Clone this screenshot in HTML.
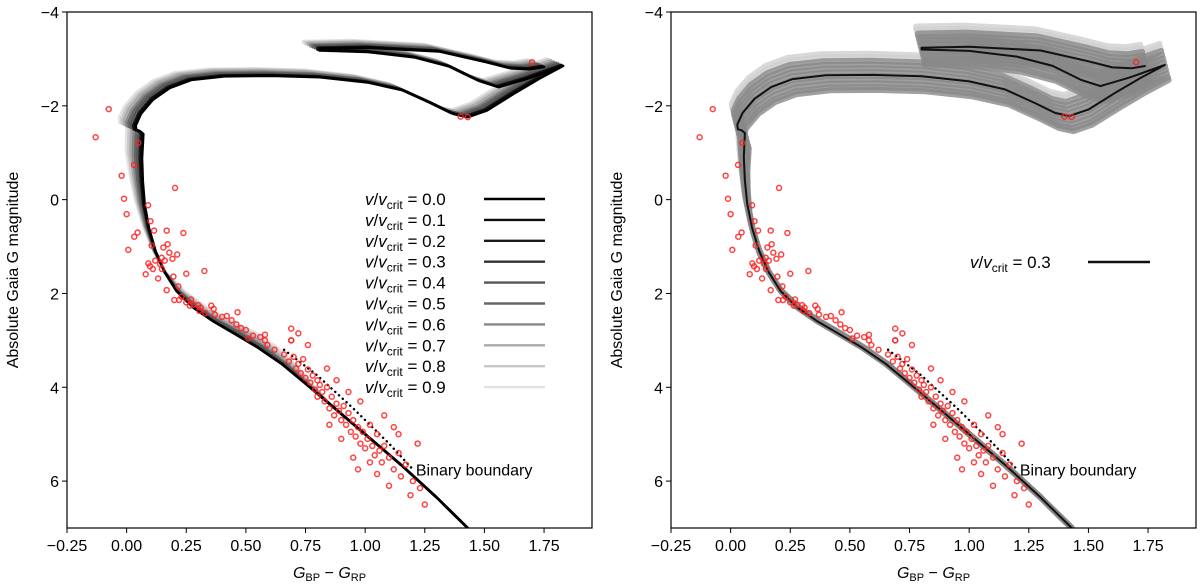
<!DOCTYPE html>
<html><head><meta charset="utf-8"><style>
body{margin:0;background:#fff;}
svg{display:block;font-family:"Liberation Sans","DejaVu Sans",sans-serif;}
</style></head><body>
<svg id="fig" width="1200" height="587" viewBox="0 0 1200 587" xmlns="http://www.w3.org/2000/svg"></svg>
<script>
// ---- data ----
const isoColor=[1.43,1.30,1.15,1.0,0.85,0.75,0.65,0.55,0.45,0.36,0.28,0.21,0.16,0.12,0.09,0.07,0.06,0.055,0.058,0.06,0.045,0.03,0.028,0.05,0.1,0.17,0.26,0.4,0.6,0.8,1.0,1.15,1.28,1.36,1.42,1.5,1.62,1.72,1.82,1.67,1.55,1.47,1.35,1.2,1.0,0.8,0.8,1.0,1.3,1.5,1.6,1.68,1.74];
const isoMag=[7.0,6.35,5.65,5.0,4.35,3.92,3.5,3.15,2.85,2.58,2.3,1.95,1.55,1.1,0.6,0.1,-0.4,-0.9,-1.25,-1.42,-1.48,-1.5,-1.6,-1.85,-2.15,-2.4,-2.57,-2.65,-2.66,-2.63,-2.52,-2.35,-2.05,-1.85,-1.78,-1.92,-2.3,-2.6,-2.87,-2.6,-2.42,-2.55,-2.85,-3.05,-3.17,-3.2,-3.24,-3.26,-3.18,-2.95,-2.82,-2.8,-2.85];
const rotRates=[0.0,0.1,0.2,0.3,0.4,0.5,0.6,0.7,0.8,0.9];
const rotMagShift=[0.02,0.01,0,0,-0.03,-0.05,-0.07,-0.1,-0.12,-0.14];
const rotColorShift=[0.01,0.005,0,0,-0.01,-0.02,-0.03,-0.04,-0.05,-0.06];
const rotMSShift=[0,0,0,0,0.02,0.03,0.04,0.06,0.08,0.1];
const rotGray=["#000","#0d0d0d","#1a1a1a","#333","#555","#666","#888","#aaa","#c8c8c8","#e2e2e2"];
const bandShifts=[-0.45,-0.38,-0.3,-0.22,-0.14,-0.06,0.02,0.1,0.18,0.26,0.32];
const starColor=[-0.13,-0.075,0.049,0.031,-0.021,-0.011,0,0.09,0.203,0.10,0.115,0.046,0.032,0.168,0.238,0.105,0.154,0.172,0.007,0.179,0.212,0.147,0.192,0.16,0.091,0.12,0.14,0.098,0.11,0.148,0.08,0.326,0.25,0.132,0.196,0.168,0.217,0.23,0.20,0.22,0.25,0.27,0.265,0.28,0.3,0.31,0.305,0.33,0.355,0.365,0.37,0.4,0.42,0.44,0.46,0.48,0.465,0.5,0.51,0.53,0.56,0.58,0.58,0.59,0.69,0.69,
0.62,0.66,0.68,0.70,0.71,0.72,0.73,0.74,0.75,0.76,0.77,0.78,0.79,0.80,0.80,0.81,0.82,0.83,0.84,0.85,0.86,0.87,0.88,0.89,0.90,0.91,0.92,0.93,0.94,0.95,0.96,0.97,0.98,0.99,1.00,1.01,1.02,1.03,1.04,1.05,1.06,1.07,1.08,1.10,1.12,1.14,1.15,1.17,1.20,1.22,1.23,1.25,1.19,1.10,0.97,0.95,1.05,1.12,1.14,0.98,0.93,0.88,0.84,0.76,0.72,0.69,1.08,0.90,1.02,0.85,1.40,1.43,1.70];
const starMag=[-1.33,-1.93,-1.21,-0.74,-0.51,-0.02,0.31,0.12,-0.25,0.46,0.66,0.70,0.79,0.66,0.71,0.98,1.02,0.95,1.07,1.13,1.17,1.24,1.26,1.3,1.36,1.3,1.37,1.42,1.48,1.48,1.59,1.52,1.58,1.68,1.64,1.93,1.85,2.07,2.14,2.14,2.19,2.13,2.26,2.24,2.25,2.3,2.37,2.42,2.26,2.33,2.45,2.5,2.48,2.57,2.66,2.74,2.4,2.78,2.96,2.9,2.93,3.0,2.88,3.1,2.75,3.0,
3.2,3.3,3.45,3.35,3.6,3.5,3.7,3.4,3.8,3.62,3.9,3.75,4.05,3.85,4.2,3.95,4.1,4.3,4.0,4.45,4.2,4.6,4.35,4.5,4.7,4.4,4.8,4.55,4.95,4.7,5.05,4.85,5.2,4.95,5.3,5.1,4.8,5.25,5.45,5.0,5.35,5.6,5.25,5.5,5.75,5.4,5.9,5.65,6.0,5.2,6.15,6.5,6.3,6.1,5.75,5.5,5.85,4.85,5.0,4.3,4.1,3.85,3.6,3.1,2.85,3.0,4.6,5.1,5.6,4.8,-1.77,-1.76,-2.93];
const binColor=[0.66,0.8,0.95,1.1,1.2];
const binMag=[3.2,3.75,4.45,5.2,5.75];
const xTicks=[-0.25,0,0.25,0.5,0.75,1.0,1.25,1.5,1.75];
const xTickLabels=["\u22120.25","0.00","0.25","0.50","0.75","1.00","1.25","1.50","1.75"];
const yTicks=[-4,-2,0,2,4,6];
const yTickLabels=["\u22124","\u22122","0","2","4","6"];

const NS="http://www.w3.org/2000/svg";
const fig=document.getElementById('fig');
function mk(tag,attrs,parent){const e=document.createElementNS(NS,tag);for(const k in attrs)e.setAttribute(k,attrs[k]);(parent||fig).appendChild(e);return e;}
const X0=-0.25,X1=1.951,Y0=-4,Y1=7,TOP=12,BOT=528;
function makeScales(left,right){return{x:c=>left+(c-X0)/(X1-X0)*(right-left),y:m=>TOP+(m-Y0)/(Y1-Y0)*(BOT-TOP)};}
function upperW(m){return Math.max(0,Math.min(1,(1.5-m)/2.5));}
function msW(m){return Math.max(0,1-Math.abs(m-2.9)/1.4);}
function pathFor(s,dc,dm,ms){let d="";for(let i=0;i<isoColor.length;i++){const w=upperW(isoMag[i]);const c=isoColor[i]+dc*w+ms*msW(isoMag[i]);const m=isoMag[i]+dm*w;d+=(i?"L":"M")+s.x(c).toFixed(1)+" "+s.y(m).toFixed(1);}return d;}

function panel(left,right,name,isRight){
  const s=makeScales(left,right);
  const g=mk('g',{});
  
  
  const clipId='clip'+name;
  const cp=mk('clipPath',{id:clipId},g);mk('rect',{x:left,y:TOP,width:right-left,height:BOT-TOP},cp);
  const plot=mk('g',{'clip-path':'url(#'+clipId+')'},g);
  if(!isRight){
    for(let k=rotRates.length-1;k>=0;k--){
      const p=mk('path',{d:pathFor(s,rotColorShift[k],rotMagShift[k],rotMSShift[k]),fill:'none',stroke:rotGray[k],'stroke-width':2.6,'stroke-linejoin':'round','stroke-linecap':'round'},plot);
      
      
    }
  } else {
    for(let k=0;k<bandShifts.length;k++){
      const p=mk('path',{d:pathFor(s,bandShifts[k]*0.05,bandShifts[k],Math.abs(bandShifts[k])*0.03),fill:'none',stroke:(Math.abs(bandShifts[k])>0.36?'#cfcfcf':'#888'),'stroke-width':6,'stroke-opacity':0.8,'stroke-linejoin':'round','stroke-linecap':'round'},plot);
      
      
    }
    const p=mk('path',{d:pathFor(s,0,0,0),fill:'none',stroke:'#111','stroke-width':2,'stroke-linejoin':'round'},plot);
    
    
  }
  let bd="";for(let i=0;i<binColor.length;i++)bd+=(i?"L":"M")+s.x(binColor[i])+" "+s.y(binMag[i]);
  const bb=mk('path',{d:bd,fill:'none',stroke:'#000','stroke-width':2.4,'stroke-dasharray':'0.1 5','stroke-linecap':'round'},plot);
  
  
  const bt=mk('text',{x:s.x(binColor[binColor.length-1])+3,y:s.y(binMag[binMag.length-1])+6,'font-size':16},g);
  bt.textContent='Binary boundary';
  
  
  for(let i=0;i<starColor.length;i++){
    const c=mk('circle',{cx:s.x(starColor[i]),cy:s.y(starMag[i]),r:2.5,fill:'none',stroke:'#f22','stroke-width':1.5,'stroke-opacity':0.85},plot);
    
    
  }
  const fr=mk('rect',{x:left,y:TOP,width:right-left,height:BOT-TOP,fill:'none',stroke:'#000','stroke-width':1.2},g);
  
  
  for(let i=0;i<xTicks.length;i++){
    const x=s.x(xTicks[i]);
    mk('line',{x1:x,x2:x,y1:BOT,y2:BOT+5,stroke:'#000','stroke-width':1},g);
    const t=mk('text',{x:x,y:BOT+23,'font-size':16,'text-anchor':'middle'},g);
    t.textContent=xTickLabels[i];
    
    
  }
  for(let i=0;i<yTicks.length;i++){
    const y=s.y(yTicks[i]);
    mk('line',{x1:left-5,x2:left,y1:y,y2:y,stroke:'#000','stroke-width':1},g);
    const t=mk('text',{x:left-8,y:y+6,'font-size':16,'text-anchor':'end'},g);
    t.textContent=yTickLabels[i];
    
    
  }
  const xl=mk('text',{x:(left+right)/2,y:578,'font-size':16,'text-anchor':'middle'},g);
  xl.innerHTML='<tspan font-style="italic">G</tspan><tspan font-size="11" dy="3">BP</tspan><tspan dy="-3"> \u2212 </tspan><tspan font-style="italic">G</tspan><tspan font-size="11" dy="3">RP</tspan>';
  
  
  const yl=mk('text',{x:0,y:0,'font-size':16,'text-anchor':'middle',transform:'translate('+(left-49)+',270) rotate(-90)'},g);
  yl.textContent='Absolute Gaia G magnitude';
  
  
  return g;
}
function legendEntry(g,x,y,label,color,lx1,lx2){
  const e=mk('g',{},g);
  
  
  const t=mk('text',{x:x,y:y+6,'font-size':17},e);
  t.innerHTML='<tspan font-style="italic">v</tspan>/<tspan font-style="italic">v</tspan><tspan font-size="12" dy="4">crit</tspan><tspan dy="-4"> = '+label+'</tspan>';
  mk('line',{x1:lx1,x2:lx2,y1:y,y2:y,stroke:color,'stroke-width':2.4},e);
}
panel(67,592,'left-panel',false);
panel(671,1196,'right-panel',true);
const lg=mk('g',{});


for(let k=0;k<rotRates.length;k++)legendEntry(lg,365,199+k*20.9,rotRates[k].toFixed(1),rotGray[k],484,545);
const lg2=mk('g',{});


legendEntry(lg2,970,262,'0.3','#111',1088,1150);
</script>
</body></html>
